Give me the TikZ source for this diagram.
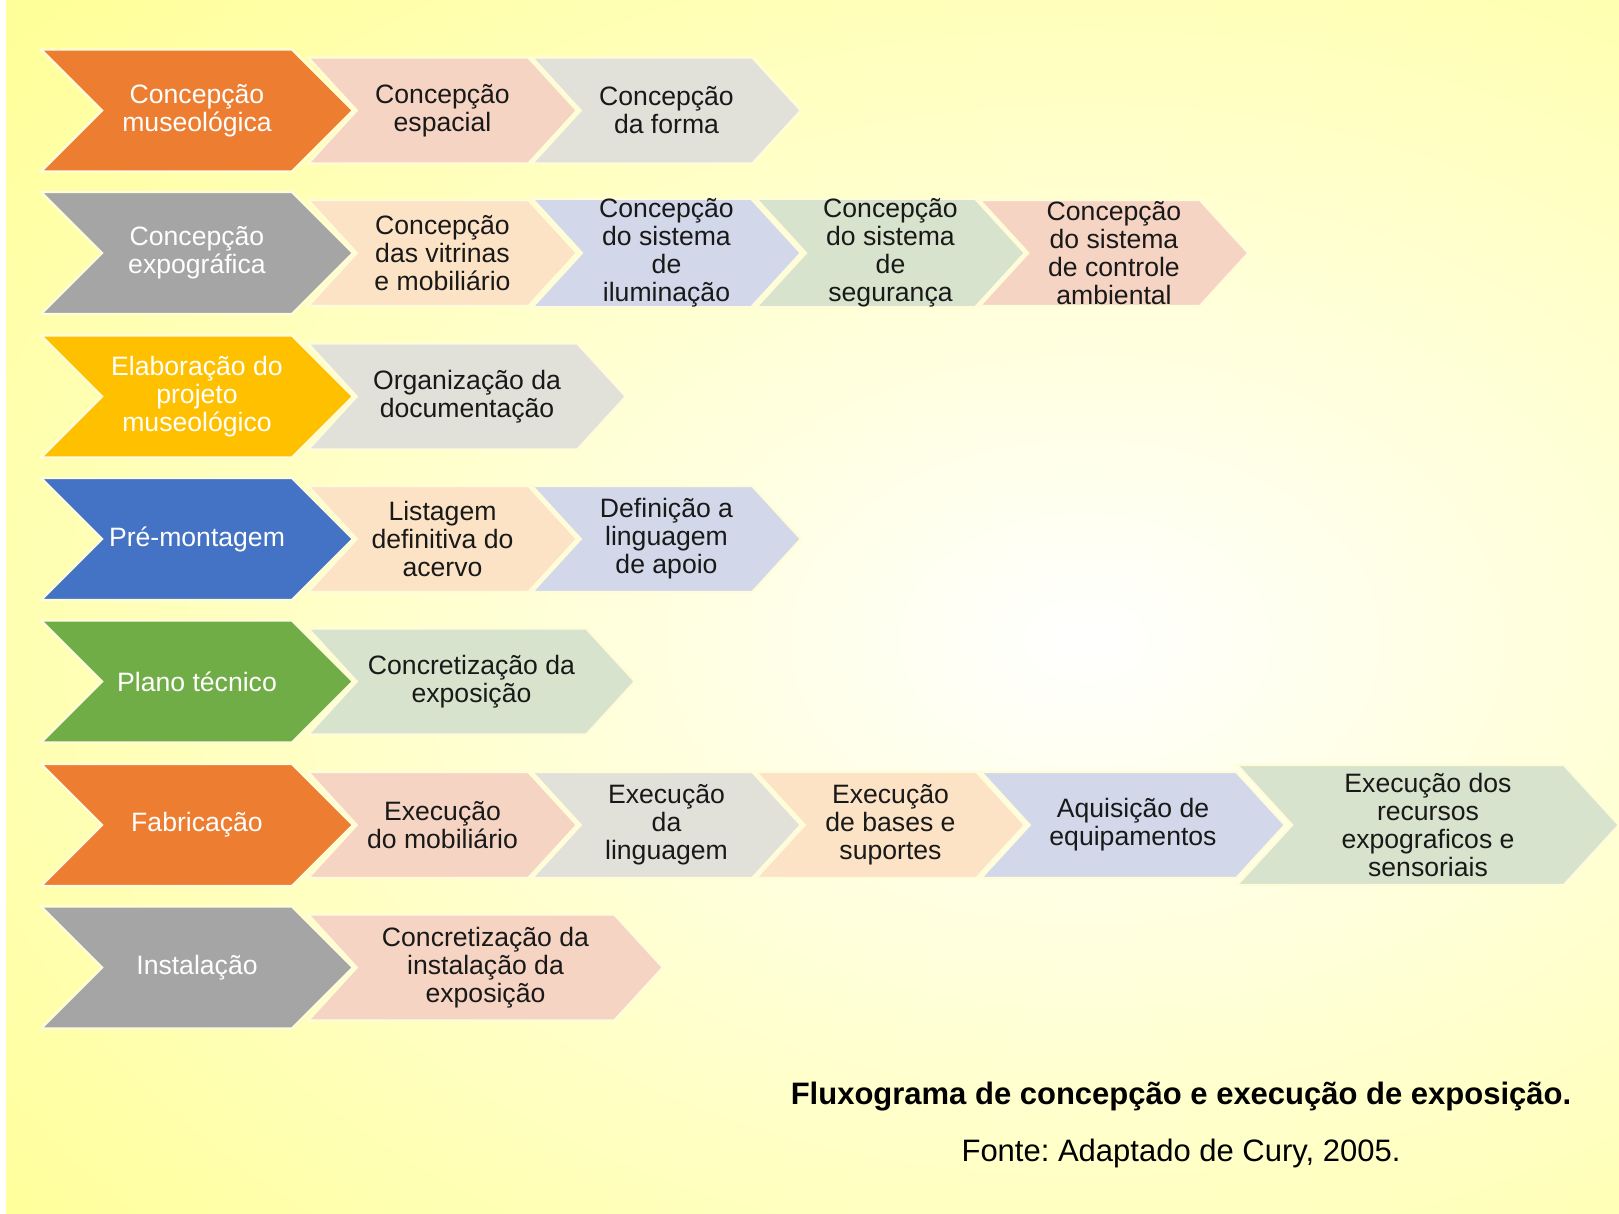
\documentclass[tikz,border=0pt]{standalone}
\usepackage{fontspec}
\setmainfont{Liberation Sans}
\usetikzlibrary{shapes.symbols}
\frenchspacing

\definecolor{bgyel}{HTML}{FFFF99}
\definecolor{orng}{HTML}{ED7D31}
\definecolor{gry}{HTML}{A5A5A5}
\definecolor{gold}{HTML}{FFC000}
\definecolor{blu}{HTML}{4472C4}
\definecolor{grn}{HTML}{70AD47}
\definecolor{pinkL}{HTML}{F6D4C4}
\definecolor{grayL}{HTML}{E1E1DA}
\definecolor{peachL}{HTML}{FCE3C6}
\definecolor{blueL}{HTML}{D2D8EA}
\definecolor{greenL}{HTML}{D7E3CC}

\newcommand\boxfont{\fontsize{13.3}{14}\selectfont}

\begin{document}
\begin{tikzpicture}[x=0.5pt, y=-0.5pt,
        chev/.style={signal, signal to=east, signal from=west, inner sep=0pt,
                     draw=white!85!yellow, line width=1.2pt, align=center, font=\boxfont},
        main/.style={chev, signal pointer angle=90, minimum width=156pt,
                     minimum height=61pt, text=white},
        sub/.style={chev, signal pointer angle=95, minimum width=134.5pt,
                    minimum height=53pt, text=black!90},
        captxt/.style={font=\fontsize{15.5}{18}\selectfont}]
      \useasboundingbox (0,0) rectangle (1619,1214);
      % background
      \fill[bgyel] (0,0) rectangle (1619,1214);
      \begin{scope}
        \clip (0,0) rectangle (1619,1214);
        \shade[inner color=white, outer color=bgyel] (1085,640) ellipse [x radius=1400, y radius=950];
      \end{scope}
      \fill[white] (0,0) rectangle (6,1214);
      % main steps
      \node[main, fill=orng] (m1) at (197,110.5) {Concepção\\museológica};
      \node[main, fill=gry]  (m2) at (197,253)   {Concepção\\expográfica};
      \node[main, fill=gold] (m3) at (197,396.5) {Elaboração do\\projeto\\museológico};
      \node[main, fill=blu]  (m4) at (197,539)   {Pré-montagem};
      \node[main, fill=grn]  (m5) at (197,681.5) {Plano técnico};
      \node[main, fill=orng] (m6) at (197,825)   {Fabricação};
      \node[main, fill=gry]  (m7) at (197,967.5) {Instalação};
      % row 1
      \node[sub, fill=pinkL] (s11) at (442.5,110.5) {Concepção\\espacial};
      \node[sub, fill=grayL] (s12) at (666.5,110.5) {Concepção\\da forma};
      % row 2
      \node[sub, fill=peachL] (s21) at (442.5,253) {Concepção\\das vitrinas\\e mobiliário};
      \node[sub, fill=blueL]  (s22) at (666.5,253) {Concepção\\do sistema\\de\\iluminação};
      \node[sub, fill=greenL] (s23) at (890.5,253) {Concepção\\do sistema\\de\\segurança};
      \node[sub, fill=pinkL]  (s24) at (1114,253)  {Concepção\\do sistema\\de controle\\ambiental};
      % row 3
      \node[sub, fill=grayL, minimum width=159pt] (s31) at (467,396.5) {Organização da\\documentação};
      % row 4
      \node[sub, fill=peachL] (s41) at (442.5,539) {Listagem\\definitiva do\\acervo};
      \node[sub, fill=blueL]  (s42) at (666.5,539) {Definição a\\linguagem\\de apoio};
      % row 5
      \node[sub, fill=greenL, minimum width=163.5pt] (s51) at (471.5,681.5) {Concretização da\\exposição};
      % row 6
      \node[sub, fill=pinkL]  (s61) at (442.5,825) {Execução\\do mobiliário};
      \node[sub, fill=grayL]  (s62) at (666.5,825) {Execução\\da\\linguagem};
      \node[sub, fill=peachL] (s63) at (890.5,825) {Execução\\de bases e\\suportes};
      \node[sub, fill=blueL, minimum width=152pt] (s64) at (1133,825) {Aquisição de\\equipamentos};
      \node[sub, fill=greenL, minimum width=191pt, minimum height=60pt] (s65) at (1428,825)
            {Execução dos\\recursos\\expograficos e\\sensoriais};
      % row 7
      \node[sub, fill=pinkL, minimum width=177.5pt] (s71) at (485.5,967.5) {Concretização da\\instalação da\\exposição};
      % caption
      \node[captxt, font=\fontsize{15.5}{18}\selectfont\bfseries] (tit) at (1181,1097)
            {Fluxograma de concepção e execução de exposição.};
      \node[captxt] (src) at (1181,1153) {Fonte: Adaptado de Cury, 2005.};
    \end{tikzpicture}
\end{document}
